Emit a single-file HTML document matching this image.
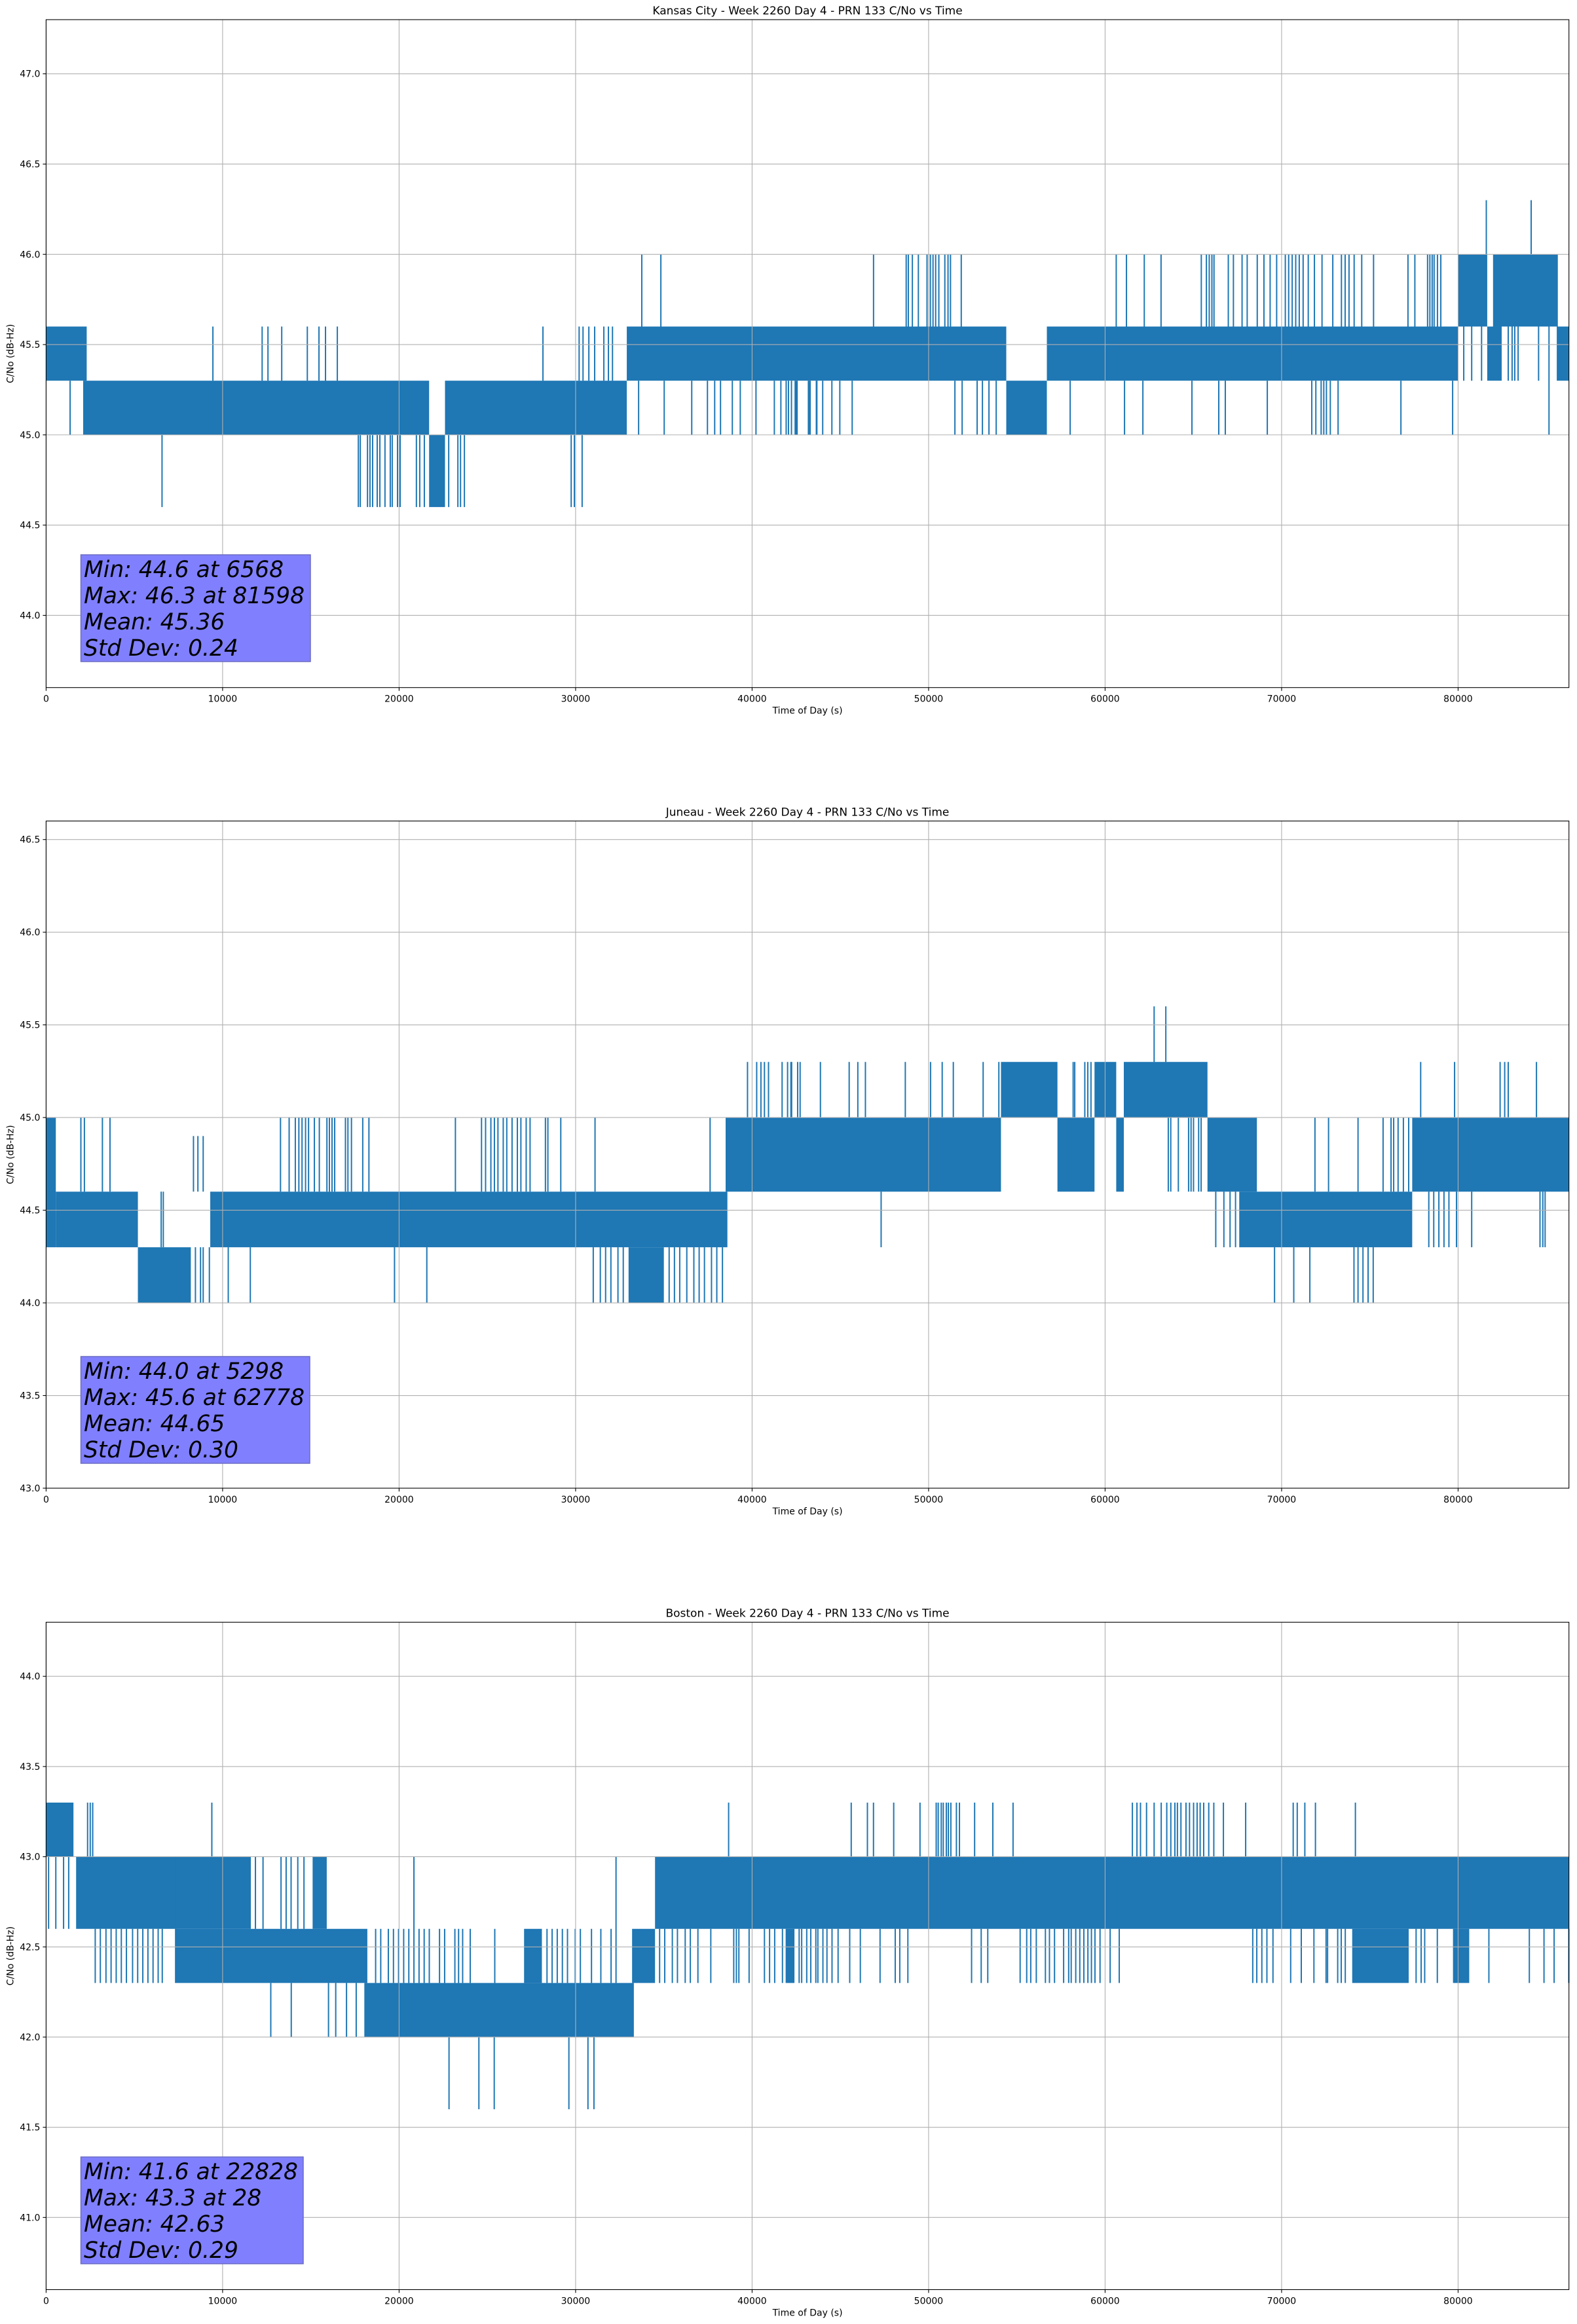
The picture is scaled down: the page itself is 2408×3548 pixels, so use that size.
<!DOCTYPE html>
<html><head><meta charset="utf-8"><style>
html,body{margin:0;padding:0;background:#fff;}
svg{display:block;font-family:"DejaVu Sans","Liberation Sans",sans-serif;}
</style></head><body>
<svg id="fig" width="2408" height="3548" viewBox="0 0 2408 3548" xmlns="http://www.w3.org/2000/svg">
<rect width="2408" height="3548" fill="#fff"/>
</svg>
<script>
// ---------- shared axis data ----------
const xTickValues = [0,10000,20000,30000,40000,50000,60000,70000,80000];
const xTickLabels = ["0","10000","20000","30000","40000","50000","60000","70000","80000"];
const xMaxData = 86280;

// ---------- Kansas City ----------
const kcYTicks = [44.0,44.5,45.0,45.5,46.0,46.5,47.0];
const kcYTickLabels = ["44.0","44.5","45.0","45.5","46.0","46.5","47.0"];
const kcBands = [[0,2300,45.3,45.6],[2100,21700,45.0,45.3],[21700,22600,44.6,45.0],[22600,32900,45.0,45.3],[32900,54400,45.3,45.6],[54400,56700,45.0,45.3],[56700,80000,45.3,45.6],[80000,81650,45.6,46.0],[81650,82470,45.3,45.6],[81980,85650,45.6,46.0],[85590,86280,45.3,45.6]];
const kcSpikeTimes = [9450,12240,12570,13350,14800,15460,15830,16500,28150,30200,30420,30750,31080,31600,31860,32090,
1360,6568,17690,17800,18210,18350,18500,18760,18910,19200,19500,19610,19910,20060,20980,21170,21430,22810,23330,23480,23700,29750,29930,30370,
33750,34830,46880,48730,48850,49080,49420,49910,50100,50250,50400,50580,50920,51100,51240,51850,60630,61210,62220,63170,65450,65740,65900,66050,66170,66980,67270,67760,68050,68620,69000,69350,69720,70210,70400,70600,70800,71000,71220,71510,71860,72290,72900,73390,73600,73820,74110,74540,75210,77160,77550,78270,78400,78530,78640,78830,79020,
33570,35020,36580,37470,37880,38210,38880,39330,40220,41260,41630,41930,42230,42490,43190,43640,42060,42440,42550,43220,43290,43670,44000,44520,44970,45670,51490,51900,52750,53050,53420,53830,55500,55790,56160,58020,61100,62140,64920,66440,66810,69190,71710,71940,72240,72390,72540,72760,73200,76760,79690,85150,
80320,80770,81330,82840,83060,83210,83400,84560,81598,84140];
const kcSpikeValues = [45.6,45.6,45.6,45.6,45.6,45.6,45.6,45.6,45.6,45.6,45.6,45.6,45.6,45.6,45.6,45.6,
45.0,44.6,44.6,44.6,44.6,44.6,44.6,44.6,44.6,44.6,44.6,44.6,44.6,44.6,44.6,44.6,44.6,44.6,44.6,44.6,44.6,44.6,44.6,44.6,
46.0,46.0,46.0,46.0,46.0,46.0,46.0,46.0,46.0,46.0,46.0,46.0,46.0,46.0,46.0,46.0,46.0,46.0,46.0,46.0,46.0,46.0,46.0,46.0,46.0,46.0,46.0,46.0,46.0,46.0,46.0,46.0,46.0,46.0,46.0,46.0,46.0,46.0,46.0,46.0,46.0,46.0,46.0,46.0,46.0,46.0,46.0,46.0,46.0,46.0,46.0,46.0,46.0,46.0,46.0,46.0,46.0,
45.0,45.0,45.0,45.0,45.0,45.0,45.0,45.0,45.0,45.0,45.0,45.0,45.0,45.0,45.0,45.0,45.0,45.0,45.0,45.0,45.0,45.0,45.0,45.0,45.0,45.0,45.0,45.0,45.0,45.0,45.0,45.0,45.0,45.0,45.0,45.0,45.0,45.0,45.0,45.0,45.0,45.0,45.0,45.0,45.0,45.0,45.0,45.0,45.0,45.0,45.0,45.0,
45.3,45.3,45.3,45.3,45.3,45.3,45.3,45.3,46.3,46.3];
const kcStats = ["Min: 44.6 at 6568","Max: 46.3 at 81598","Mean: 45.36","Std Dev: 0.24"];

// ---------- Juneau ----------
const jnYTicks = [43.0,43.5,44.0,44.5,45.0,45.5,46.0,46.5];
const jnYTickLabels = ["43.0","43.5","44.0","44.5","45.0","45.5","46.0","46.5"];
const jnBands = [[0,550,44.3,45.0],[550,5200,44.3,44.6],[5200,8200,44.0,44.3],[9300,38600,44.3,44.6],[33000,35000,44.0,44.3],[38500,54100,44.6,45.0],[54100,57300,45.0,45.3],[57300,59400,44.6,45.0],[59400,60630,45.0,45.3],[60630,61060,44.6,45.0],[61060,65800,45.0,45.3],[65800,68600,44.6,45.0],[67600,77400,44.3,44.6],[77400,86280,44.6,45.0]];
const jnSpikeTimes = [1970,2170,3190,3620,13280,13770,14120,14320,14500,14700,14870,15200,15480,15910,16050,16200,16350,16960,17100,17300,17940,18290,23190,24670,24900,25200,25400,25600,25900,26100,26400,26700,26900,27200,27420,28290,28430,29160,31100,37620,75750,76200,76350,76600,76900,77200,71890,72660,74330,
5298,8460,8750,8900,9250,10320,11570,19740,21570,31000,31400,31700,32000,32400,32700,35300,35600,35900,36300,36700,37000,37300,37700,38000,38320,69600,70690,71600,74100,74330,74610,74900,75190,
6520,6640,8350,8600,8900,63580,63720,64150,64730,64870,65010,65300,65440,
47310,66270,66730,67080,67390,78340,78620,78910,79200,79480,79910,80770,84640,84800,84930,
39740,40260,40500,40700,40930,41700,42200,42720,42010,42240,42580,43870,45500,45990,46420,48680,50110,50770,51400,53090,53980,58190,58280,58850,59020,59200,77880,79800,82380,82640,82840,84440,
62778,63440];
const jnSpikeValues = [45.0,45.0,45.0,45.0,45.0,45.0,45.0,45.0,45.0,45.0,45.0,45.0,45.0,45.0,45.0,45.0,45.0,45.0,45.0,45.0,45.0,45.0,45.0,45.0,45.0,45.0,45.0,45.0,45.0,45.0,45.0,45.0,45.0,45.0,45.0,45.0,45.0,45.0,45.0,45.0,45.0,45.0,45.0,45.0,45.0,45.0,45.0,45.0,45.0,
44.0,44.0,44.0,44.0,44.0,44.0,44.0,44.0,44.0,44.0,44.0,44.0,44.0,44.0,44.0,44.0,44.0,44.0,44.0,44.0,44.0,44.0,44.0,44.0,44.0,44.0,44.0,44.0,44.0,44.0,44.0,44.0,44.0,
44.6,44.6,44.6,44.6,44.6,44.6,44.6,44.6,44.6,44.6,44.6,44.6,44.6,
44.3,44.3,44.3,44.3,44.3,44.3,44.3,44.3,44.3,44.3,44.3,44.3,44.3,44.3,44.3,
45.3,45.3,45.3,45.3,45.3,45.3,45.3,45.3,45.3,45.3,45.3,45.3,45.3,45.3,45.3,45.3,45.3,45.3,45.3,45.3,45.3,45.3,45.3,45.3,45.3,45.3,45.3,45.3,45.3,45.3,45.3,45.3,
45.6,45.6];
const jnStats = ["Min: 44.0 at 5298","Max: 45.6 at 62778","Mean: 44.65","Std Dev: 0.30"];

// ---------- Boston ----------
const bsYTicks = [41.0,41.5,42.0,42.5,43.0,43.5,44.0];
const bsYTickLabels = ["41.0","41.5","42.0","42.5","43.0","43.5","44.0"];
const bsBands = [[0,1550,43.0,43.3],[1700,7400,42.6,43.0],[7300,11600,42.6,43.0],[7300,18200,42.3,42.6],[15100,15900,42.6,43.0],[18030,33300,42.0,42.3],[27080,28090,42.3,42.6],[33200,34500,42.3,42.6],[34500,86280,42.6,43.0],[41900,42400,42.3,42.6],[74000,77200,42.3,42.6],[79710,80630,42.3,42.6]];
const bsSpikeTimes = [140,550,990,1280,
28,2350,2500,2640,9390,38670,45616,46533,46877,48023,49513,50430,50544,50716,50831,51003,51117,51261,51576,51748,52607,53639,54785,61546,61804,62005,62348,62778,63179,63494,63723,63953,64096,64296,64583,64783,65013,65213,65385,65586,65872,66159,66703,67964,70657,70886,71316,71917,74181,
2783,3073,3392,3682,3972,4262,4551,4899,5189,5479,5769,6059,6349,6581,34760,35050,35480,35770,36210,36500,36930,37660,38960,39110,39250,39830,40700,40990,41280,41720,42010,42666,42809,43095,43325,43611,43726,44012,44241,44528,44872,45531,46132,47250,48109,48367,48825,52435,52980,53352,55186,55558,55787,56102,56618,56847,57134,57650,57936,58079,58337,58566,58796,59025,59225,59426,59713,60286,60801,68365,68594,68881,69167,69511,70514,71115,71831,72519,72605,73178,73378,73608,77620,77906,78107,78823,81744,84036,84867,85440,86271,
11860,12290,13310,13600,13880,14260,14610,20840,32290,
12730,13890,16000,16410,17020,17570,
18670,18960,19390,19680,19970,20260,20550,21130,21420,21710,22290,22580,23160,23370,23600,24030,25420,28380,28670,28960,29250,29540,29980,30270,30900,31430,32010,
22828,24520,25390,29620,30700,31040];
const bsSpikeValues = [42.6,42.6,42.6,42.6,
43.3,43.3,43.3,43.3,43.3,43.3,43.3,43.3,43.3,43.3,43.3,43.3,43.3,43.3,43.3,43.3,43.3,43.3,43.3,43.3,43.3,43.3,43.3,43.3,43.3,43.3,43.3,43.3,43.3,43.3,43.3,43.3,43.3,43.3,43.3,43.3,43.3,43.3,43.3,43.3,43.3,43.3,43.3,43.3,43.3,43.3,43.3,43.3,43.3,
42.3,42.3,42.3,42.3,42.3,42.3,42.3,42.3,42.3,42.3,42.3,42.3,42.3,42.3,42.3,42.3,42.3,42.3,42.3,42.3,42.3,42.3,42.3,42.3,42.3,42.3,42.3,42.3,42.3,42.3,42.3,42.3,42.3,42.3,42.3,42.3,42.3,42.3,42.3,42.3,42.3,42.3,42.3,42.3,42.3,42.3,42.3,42.3,42.3,42.3,42.3,42.3,42.3,42.3,42.3,42.3,42.3,42.3,42.3,42.3,42.3,42.3,42.3,42.3,42.3,42.3,42.3,42.3,42.3,42.3,42.3,42.3,42.3,42.3,42.3,42.3,42.3,42.3,42.3,42.3,42.3,42.3,42.3,42.3,42.3,42.3,42.3,42.3,42.3,42.3,42.3,
43.0,43.0,43.0,43.0,43.0,43.0,43.0,43.0,43.0,
42.0,42.0,42.0,42.0,42.0,42.0,
42.6,42.6,42.6,42.6,42.6,42.6,42.6,42.6,42.6,42.6,42.6,42.6,42.6,42.6,42.6,42.6,42.6,42.6,42.6,42.6,42.6,42.6,42.6,42.6,42.6,42.6,42.6,
41.6,41.6,41.6,41.6,41.6,41.6];
const bsStats = ["Min: 41.6 at 22828","Max: 43.3 at 28","Mean: 42.63","Std Dev: 0.29"];

// ---------- rendering ----------
const NS = "http://www.w3.org/2000/svg";
const fig = document.getElementById('fig');
const AX_L = 70.4, AX_R = 2395.7;
function mk(tag, attrs, parent){ const e=document.createElementNS(NS,tag); for(const k in attrs) e.setAttribute(k,attrs[k]); (parent||fig).appendChild(e); return e; }
function xScale(t){ return AX_L + t / xMaxData * (AX_R - AX_L); }

function drawPanel(p){
  const g = mk('g',{});
  
  
  const yScale = v => p.bottom - (v - p.ymin) / (p.ymax - p.ymin) * (p.bottom - p.top);
  const data = mk('g',{}, g);
  
  
  p.bands.forEach(b => {
    const r = mk('rect',{x:xScale(b[0]), y:yScale(b[3]), width:Math.max(1,xScale(b[1])-xScale(b[0])), height:yScale(b[2])-yScale(b[3]), fill:'#1f77b4'}, data);
    
    
  });
  p.spikeT.forEach((t,i) => {
    const v = p.spikeV[i];
    let base = null, best = 1e9;
    p.bands.forEach(b => {
      if (t >= b[0] && t <= b[1]) {
        const e = v > b[3] ? b[3] : (v < b[2] ? b[2] : v);
        const d = Math.abs(v - e);
        if (d < best) { best = d; base = e; }
      }
    });
    if (base === null) base = v > (p.ymin+p.ymax)/2 ? v - 0.3 : v + 0.3;
    const x = xScale(t);
    const l = mk('line',{x1:x, x2:x, y1:yScale(base), y2:yScale(v), stroke:'#1f77b4', 'stroke-width':2}, data);
    
    
  });
  const grid = mk('g',{stroke:'#b0b0b0','stroke-width':1.1}, g);
  
  
  xTickValues.forEach(t => mk('line',{x1:xScale(t),x2:xScale(t),y1:p.top,y2:p.bottom}, grid));
  p.yTicks.forEach(v => mk('line',{x1:AX_L,x2:AX_R,y1:yScale(v),y2:yScale(v)}, grid));
  const fr = mk('rect',{x:AX_L,y:p.top,width:AX_R-AX_L,height:p.bottom-p.top,fill:'none',stroke:'#000','stroke-width':1.1}, g);
  
  
  const xa = mk('g',{}, g);
  
  
  xTickValues.forEach((t,i) => {
    const x = xScale(t);
    mk('line',{x1:x,x2:x,y1:p.bottom,y2:p.bottom+5,stroke:'#000','stroke-width':1.1}, xa);
    const tx = mk('text',{x:x,y:p.bottom+22,'text-anchor':'middle','font-size':14,fill:'#000'}, xa);
    tx.textContent = xTickLabels[i];
    
    
  });
  const xl = mk('text',{x:(AX_L+AX_R)/2,y:p.bottom+40,'text-anchor':'middle','font-size':14,fill:'#000'}, g);
  xl.textContent = 'Time of Day (s)';
  
  
  const ya = mk('g',{}, g);
  
  
  p.yTicks.forEach((v,i) => {
    const y = yScale(v);
    mk('line',{x1:AX_L-5,x2:AX_L,y1:y,y2:y,stroke:'#000','stroke-width':1.1}, ya);
    const tx = mk('text',{x:AX_L-9,y:y+5,'text-anchor':'end','font-size':14,fill:'#000'}, ya);
    tx.textContent = p.yLabels[i];
    
    
  });
  const cy = (p.top+p.bottom)/2;
  const yl = mk('text',{x:0,y:0,'text-anchor':'middle','font-size':14,fill:'#000',transform:`translate(20.5 ${cy}) rotate(-90)`}, g);
  yl.textContent = 'C/No (dB-Hz)';
  
  
  const ti = mk('text',{x:(AX_L+AX_R)/2,y:p.top-8,'text-anchor':'middle','font-size':17,fill:'#000'}, g);
  ti.textContent = p.title;
  
  
  const sb = mk('g',{}, g);
  
  
  mk('rect',{x:123.5,y:p.boxTop,width:p.boxW,height:163,fill:'#8080ff',stroke:'#6c6cc4','stroke-width':1.5}, sb);
  p.stats.forEach((s,i) => {
    const tx = mk('text',{x:128,y:p.boxTop+34+i*40,'font-size':34.5,'font-style':'italic',fill:'#000'}, sb);
    tx.textContent = s;
    
    
  });
}

drawPanel({key:'kansas-city', title:'Kansas City - Week 2260 Day 4 - PRN 133 C/No vs Time', top:30, bottom:1049.7, ymin:43.6, ymax:47.3, yTicks:kcYTicks, yLabels:kcYTickLabels, bands:kcBands, spikeT:kcSpikeTimes, spikeV:kcSpikeValues, stats:kcStats, boxTop:847, boxW:350.5});
drawPanel({key:'juneau', title:'Juneau - Week 2260 Day 4 - PRN 133 C/No vs Time', top:1253.4, bottom:2272, ymin:43.0, ymax:46.6, yTicks:jnYTicks, yLabels:jnYTickLabels, bands:jnBands, spikeT:jnSpikeTimes, spikeV:jnSpikeValues, stats:jnStats, boxTop:2071, boxW:349.5});
drawPanel({key:'boston', title:'Boston - Week 2260 Day 4 - PRN 133 C/No vs Time', top:2476.6, bottom:3495.5, ymin:40.6, ymax:44.3, yTicks:bsYTicks, yLabels:bsYTickLabels, bands:bsBands, spikeT:bsSpikeTimes, spikeV:bsSpikeValues, stats:bsStats, boxTop:3293, boxW:339.5});
</script>
</body></html>
